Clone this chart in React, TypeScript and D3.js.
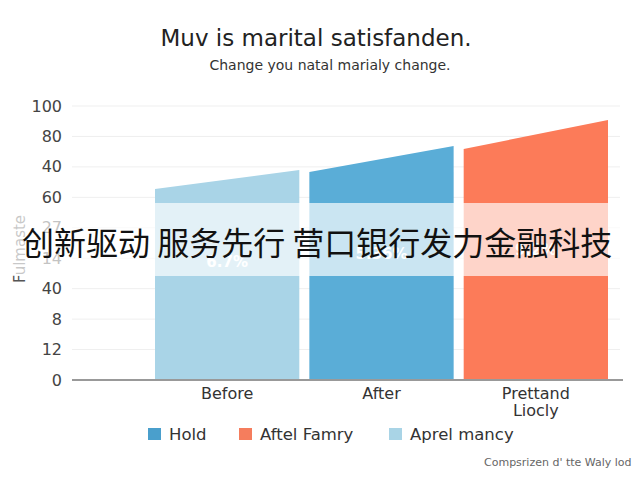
import React, { useEffect, useRef } from 'react';
import * as d3 from 'd3';

const categories = ['Before', 'After', 'Prettand\nLiocly'];
const startValues = [69.7, 75.9, 84.3];
const endValues = [76.6, 85.4, 94.9];
const valueLabels = ['6.7%', '5.36%', '9.2%'];
const yTickLabels = ['0', '12', '8', '40', '14', '27', '60', '40', '80', '100'];
const legendLabels = ['Hold', 'Aftel Famry', 'Aprel mancy'];
const barColors = ['#a9d4e7', '#5aadd7', '#fc7b59'];
const legendColors = ['#4a9fcc', '#f57d5d', '#a9d4e6'];

const App: React.FC = () => {
  const chartRef = useRef<SVGSVGElement | null>(null);

  useEffect(() => {
    renderChart();
  }, []);

  const renderChart = () => {
    const W = 640;
    const H = 480;
    const left = 72, right = 623, top = 106, bottom = 380;

    d3.select(chartRef.current).selectAll('*').remove();
    const svg = d3.select(chartRef.current)
      .attr('width', W)
      .attr('height', H)
      .style('font-family', "'DejaVu Sans', sans-serif");

    svg.append('rect').attr('width', W).attr('height', H).attr('fill', '#fff');

    // Title
    svg.append('text')
      .attr('x', 316)
      .attr('y', 46)
      .attr('text-anchor', 'middle')
      .style('font-size', '23px')
      .style('fill', '#222')
      .text('Muv is marital satisfanden.');

    svg.append('text')
      .attr('x', 330)
      .attr('y', 70)
      .attr('text-anchor', 'middle')
      .style('font-size', '14px')
      .style('fill', '#333')
      .text('Change you natal marialy change.');

    const y = d3.scaleLinear().domain([0, 100]).range([bottom, top]);
    const yTicks = d3.scalePoint<number>()
      .domain(d3.range(yTickLabels.length))
      .range([bottom, top]);

    const x = d3.scaleBand()
      .domain(categories)
      .range([155, 608])
      .paddingInner(0.065)
      .paddingOuter(0);

    // Grid lines and tick labels
    yTicks.domain().forEach(i => {
      svg.append('line')
        .attr('x1', left)
        .attr('x2', 620)
        .attr('y1', yTicks(i)!)
        .attr('y2', yTicks(i)!)
        .attr('stroke', '#efefef')
        .attr('stroke-width', 1);
      svg.append('text')
        .attr('x', 62)
        .attr('y', yTicks(i)!)
        .attr('dy', '0.35em')
        .attr('text-anchor', 'end')
        .style('font-size', '16px')
        .style('fill', '#444')
        .text(yTickLabels[i]);
    });

    // Y axis title
    svg.append('text')
      .attr('transform', 'translate(25,249) rotate(-90)')
      .attr('text-anchor', 'middle')
      .style('font-size', '15px')
      .style('fill', '#555')
      .text('Fulmaste');

    // Bars (sloped tops)
    categories.forEach((c, i) => {
      const x0 = x(c)!;
      const x1 = x0 + x.bandwidth();
      const pts: [number, number][] = [
        [x0, y(0)],
        [x0, y(startValues[i])],
        [x1, y(endValues[i])],
        [x1, y(0)],
      ];
      svg.append('path')
        .attr('d', d3.line()(pts)! + 'Z')
        .attr('fill', barColors[i]);
    });

    // Value labels
    const labelY = [267, 259, 255];
    categories.forEach((c, i) => {
      svg.append('text')
        .attr('x', x(c)! + x.bandwidth() / 2)
        .attr('y', labelY[i])
        .attr('text-anchor', 'middle')
        .style('font-size', '15px')
        .style('font-weight', 'bold')
        .style('fill', '#fff')
        .text(valueLabels[i]);
    });

    // X axis line
    svg.append('line')
      .attr('x1', left)
      .attr('x2', right)
      .attr('y1', bottom)
      .attr('y2', bottom)
      .attr('stroke', '#999')
      .attr('stroke-width', 2);

    // Category labels
    categories.forEach(c => {
      const lines = c.split('\n');
      const t = svg.append('text')
        .attr('x', x(c)! + x.bandwidth() / 2)
        .attr('y', 399)
        .attr('text-anchor', 'middle')
        .style('font-size', '16px')
        .style('fill', '#333');
      lines.forEach((l, j) => {
        t.append('tspan')
          .attr('x', x(c)! + x.bandwidth() / 2)
          .attr('dy', j === 0 ? 0 : 17)
          .text(l);
      });
    });

    // Legend
    const legendX = [148, 239, 389];
    legendLabels.forEach((l, i) => {
      svg.append('rect')
        .attr('x', legendX[i])
        .attr('y', 428)
        .attr('width', 13)
        .attr('height', 12)
        .attr('fill', legendColors[i]);
      svg.append('text')
        .attr('x', legendX[i] + 21)
        .attr('y', 440)
        .style('font-size', '16.5px')
        .style('fill', '#333')
        .text(l);
    });

    // Footer
    svg.append('text')
      .attr('x', 484)
      .attr('y', 466)
      .style('font-size', '11px')
      .style('fill', '#666')
      .text("Compsrizen d' tte Waly lod");

    // Banner overlay
    svg.append('rect')
      .attr('x', 0)
      .attr('y', 203)
      .attr('width', W)
      .attr('height', 73)
      .attr('fill', '#fff')
      .attr('fill-opacity', 0.68);

    svg.append('text')
      .attr('x', 22)
      .attr('y', 255)
      .style('font-family', "'Noto Sans CJK SC', sans-serif")
      .style('font-size', '32px')
      .style('fill', '#111')
      .text('创新驱动 服务先行 营口银行发力金融科技');
  };

  return (
    <div>
      <svg ref={chartRef} style={{ position: 'absolute', left: 0, top: 0, display: 'block' }}></svg>
    </div>
  );
};

export default App;
